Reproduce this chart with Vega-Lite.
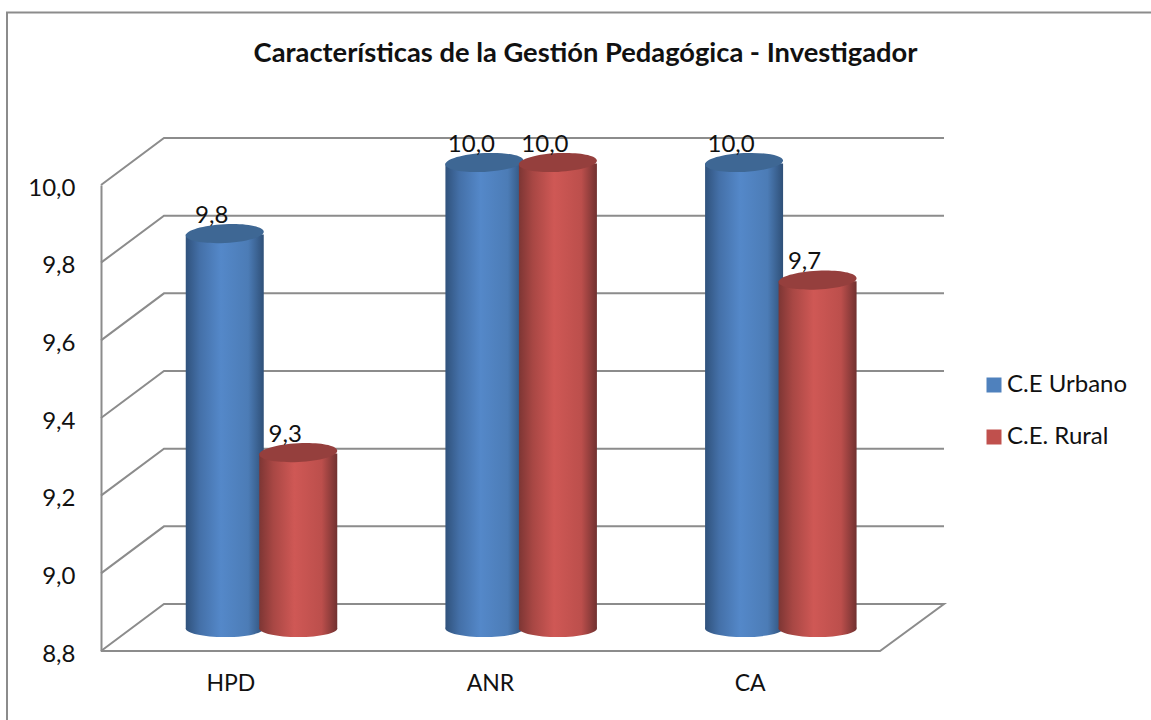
{"$schema":"https://vega.github.io/schema/vega-lite/v6.json","autosize":{"type":"none"},"width":779,"height":466,"padding":{"left":101,"top":185,"right":271,"bottom":69},"background":"white","title":{"text":"Características de la Gestión Pedagógica - Investigador","font":"Lato","fontSize":27.3,"fontWeight":"bold","color":"#111111","anchor":"middle","dx":95,"offset":-59},"config":{"view":{"stroke":null}},"datasets":{"bars":[{"cat":"HPD","serie":"C.E Urbano","value":9.817,"label":"9,8"},{"cat":"HPD","serie":"C.E. Rural","value":9.253,"label":"9,3"},{"cat":"ANR","serie":"C.E Urbano","value":10,"label":"10,0"},{"cat":"ANR","serie":"C.E. Rural","value":10,"label":"10,0"},{"cat":"CA","serie":"C.E Urbano","value":10,"label":"10,0"},{"cat":"CA","serie":"C.E. Rural","value":9.697,"label":"9,7"}],"wall":[{"line":"frame","seq":1,"px":-94,"level":8.6},{"line":"frame","seq":2,"px":-94,"level":10.444},{"line":"frame","seq":3,"px":1050,"level":10.444},{"line":"g10","seq":1,"px":0,"level":10},{"line":"g10","seq":2,"px":63,"level":10.121},{"line":"g10","seq":3,"px":843,"level":10.121},{"line":"g98","seq":1,"px":0,"level":9.8},{"line":"g98","seq":2,"px":63,"level":9.921},{"line":"g98","seq":3,"px":843,"level":9.921},{"line":"g96","seq":1,"px":0,"level":9.6},{"line":"g96","seq":2,"px":63,"level":9.721},{"line":"g96","seq":3,"px":843,"level":9.721},{"line":"g94","seq":1,"px":0,"level":9.4},{"line":"g94","seq":2,"px":63,"level":9.521},{"line":"g94","seq":3,"px":843,"level":9.521},{"line":"g92","seq":1,"px":0,"level":9.2},{"line":"g92","seq":2,"px":63,"level":9.321},{"line":"g92","seq":3,"px":843,"level":9.321},{"line":"g90","seq":1,"px":0,"level":9},{"line":"g90","seq":2,"px":63,"level":9.121},{"line":"g90","seq":3,"px":843,"level":9.121},{"line":"g88","seq":1,"px":0,"level":8.8},{"line":"g88","seq":2,"px":63,"level":8.921},{"line":"g88","seq":3,"px":843,"level":8.921},{"line":"g88","seq":4,"px":779,"level":8.8},{"line":"g88","seq":5,"px":0,"level":8.8}]},"resolve":{"scale":{"x":"independent"}},"layer":[{"data":{"name":"wall"},"mark":{"type":"line","stroke":"#8c8c8c","strokeWidth":2,"strokeJoin":"miter"},"encoding":{"x":{"field":"px","type":"quantitative","scale":{"domain":[0,779],"nice":false,"zero":false},"axis":null},"y":{"field":"level","type":"quantitative","scale":{"domain":[8.8,10],"nice":false,"zero":false},"axis":{"title":null,"values":[8.8,9,9.2,9.4,9.6,9.8,10],"labelExpr":"replace(format(datum.value,'.1f'),'.',',')","labelFont":"Lato","labelFontSize":24,"labelColor":"#111111","labelPadding":26,"labelOffset":3,"ticks":false,"grid":false,"domain":true,"domainColor":"#8c8c8c","domainWidth":2}},"detail":{"field":"line"},"order":{"field":"seq","type":"quantitative"}}},{"data":{"name":"bars"},"encoding":{"x":{"field":"cat","type":"nominal","sort":["HPD","ANR","CA"],"scale":{"paddingInner":0,"paddingOuter":0},"axis":{"title":null,"labelAngle":0,"labelFont":"Lato","labelFontSize":23,"labelColor":"#111111","labelPadding":21,"ticks":false,"domain":false,"grid":false}},"xOffset":{"field":"serie","type":"nominal","scale":{"domain":["C.E Urbano","C.E. Rural"],"range":[87,234],"paddingInner":0,"paddingOuter":0}},"y":{"field":"value","type":"quantitative"}},"layer":[{"mark":{"type":"point","filled":true,"opacity":1,"size":4,"yOffset":60,"strokeWidth":0},"encoding":{"fill":{"field":"serie","type":"nominal","scale":{"domain":["C.E Urbano","C.E. Rural"],"range":["#4F81BD","#C0504D"]},"legend":{"title":null,"orient":"none","legendX":881,"legendY":188,"symbolType":"square","symbolSize":225,"labelFont":"Lato","labelFontSize":24,"labelColor":"#111111","rowPadding":28,"labelOffset":1,"symbolStrokeWidth":0}}}},{"transform":[{"filter":"datum.serie==='C.E Urbano'"}],"mark":{"type":"bar","width":78,"yOffset":-21.5,"y2Offset":-22.5,"fill":{"gradient":"linear","x1":0,"y1":0,"x2":1,"y2":0,"stops":[{"offset":0,"color":"#30527c"},{"offset":0.18,"color":"#4470a8"},{"offset":0.45,"color":"#5488c9"},{"offset":0.8,"color":"#4c7cb6"},{"offset":1,"color":"#2f5078"}]}},"encoding":{"y2":{"datum":8.8}}},{"transform":[{"filter":"datum.serie==='C.E Urbano'"}],"mark":{"type":"point","filled":true,"opacity":1,"strokeWidth":0,"size":6084,"yOffset":-22.5,"shape":"M-1,0A1,0.22,0,1,1,1,0A1,0.22,0,1,1,-1,0Z","fill":{"gradient":"linear","x1":0,"y1":0,"x2":1,"y2":0,"stops":[{"offset":0,"color":"#30527c"},{"offset":0.18,"color":"#4470a8"},{"offset":0.45,"color":"#5488c9"},{"offset":0.8,"color":"#4c7cb6"},{"offset":1,"color":"#2f5078"}]}},"encoding":{"y":{"datum":8.8}}},{"transform":[{"filter":"datum.serie==='C.E Urbano'"}],"mark":{"type":"point","filled":true,"opacity":1,"strokeWidth":0,"size":6084,"yOffset":-22.5,"shape":"M-1,0.05A1,0.24,-3,1,1,1,-0.05A1,0.24,-3,1,1,-1,0.05Z","fill":"#3e6794"}},{"transform":[{"filter":"datum.serie==='C.E. Rural'"}],"mark":{"type":"bar","width":78,"yOffset":-21.5,"y2Offset":-22.5,"fill":{"gradient":"linear","x1":0,"y1":0,"x2":1,"y2":0,"stops":[{"offset":0,"color":"#7d3634"},{"offset":0.18,"color":"#a84744"},{"offset":0.45,"color":"#cf5855"},{"offset":0.8,"color":"#bc4f4c"},{"offset":1,"color":"#713130"}]}},"encoding":{"y2":{"datum":8.8}}},{"transform":[{"filter":"datum.serie==='C.E. Rural'"}],"mark":{"type":"point","filled":true,"opacity":1,"strokeWidth":0,"size":6084,"yOffset":-22.5,"shape":"M-1,0A1,0.22,0,1,1,1,0A1,0.22,0,1,1,-1,0Z","fill":{"gradient":"linear","x1":0,"y1":0,"x2":1,"y2":0,"stops":[{"offset":0,"color":"#7d3634"},{"offset":0.18,"color":"#a84744"},{"offset":0.45,"color":"#cf5855"},{"offset":0.8,"color":"#bc4f4c"},{"offset":1,"color":"#713130"}]}},"encoding":{"y":{"datum":8.8}}},{"transform":[{"filter":"datum.serie==='C.E. Rural'"}],"mark":{"type":"point","filled":true,"opacity":1,"strokeWidth":0,"size":6084,"yOffset":-22.5,"shape":"M-1,0.05A1,0.24,-3,1,1,1,-0.05A1,0.24,-3,1,1,-1,0.05Z","fill":"#953f3d"}},{"mark":{"type":"text","font":"Lato","fontSize":24,"color":"#111111","dx":-13,"yOffset":-40.5,"baseline":"middle"},"encoding":{"text":{"field":"label"}}}]}]}
